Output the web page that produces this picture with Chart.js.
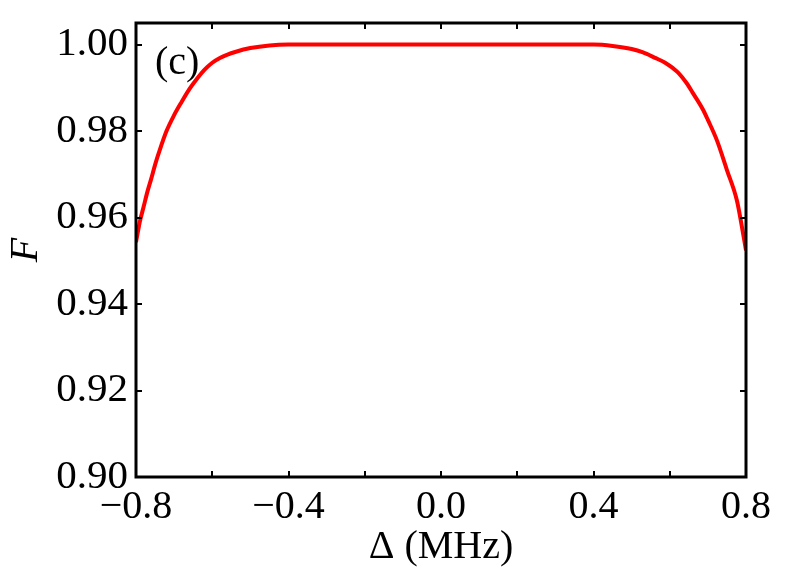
<!DOCTYPE html>
<html>
<head>
<meta charset="utf-8">
<script src="https://cdn.jsdelivr.net/npm/chart.js@4"></script>
<style>
  html, body { margin: 0; padding: 0; background: #fff; }
  canvas { display: block; }
</style>
</head>
<body>
<canvas id="fid" width="788" height="572"></canvas>
<script>
// detuning (MHz) and fidelity F
const detuning = [-0.80, -0.79, -0.78, -0.77, -0.76, -0.75, -0.74, -0.72, -0.70, -0.68,
  -0.66, -0.64, -0.62, -0.60, -0.58, -0.56, -0.54, -0.50, -0.45, -0.40,
  -0.30, -0.20, -0.10, 0.00, 0.10, 0.20, 0.30, 0.40, 0.45, 0.50,
  0.53, 0.56, 0.59, 0.62, 0.645, 0.66, 0.687, 0.70, 0.724, 0.75,
  0.776, 0.79, 0.80];
const fidelity = [0.9543, 0.9590, 0.9625, 0.9660, 0.9690, 0.9722, 0.9750, 0.9800, 0.9837, 0.9868,
  0.9897, 0.9921, 0.9942, 0.9958, 0.9969, 0.9977, 0.9983, 0.9992, 0.9998, 1.0000,
  1.0000, 1.0000, 1.0000, 1.0000, 1.0000, 1.0000, 1.0000, 1.0000, 0.9997, 0.9990,
  0.9982, 0.9970, 0.9957, 0.9937, 0.9910, 0.9889, 0.9850, 0.9826, 0.9778, 0.9710,
  0.9640, 0.9575, 0.9524];
const xTicks = [-0.8, -0.6, -0.4, -0.2, 0.0, 0.2, 0.4, 0.6, 0.8];
const xLabelTicks = [-0.8, -0.4, 0.0, 0.4, 0.8];
const yTicks = [0.90, 0.92, 0.94, 0.96, 0.98, 1.00];
const panelLabel = "(c)";

const SERIF = "'Liberation Serif', 'Times New Roman', serif";

const fmtX = v => {
  if (!xLabelTicks.some(t => Math.abs(t - v) < 1e-6)) return "";
  if (Math.abs(v) < 1e-9) return "0.0";
  return (v < 0 ? "\u2212" : "") + Math.abs(v).toFixed(1);
};

// box frame with inward ticks + panel label
const framePlugin = {
  id: "frame",
  afterDatasetsDraw(chart) {
    const { ctx, chartArea: { left, right, top, bottom } } = chart;
    const xs = chart.scales.x, ys = chart.scales.y;
    const tl = 6;
    ctx.save();
    ctx.strokeStyle = "#000";
    ctx.lineWidth = 2;
    xs.ticks.forEach(t => {
      const px = Math.round(xs.getPixelForValue(t.value));
      ctx.beginPath();
      ctx.moveTo(px, bottom); ctx.lineTo(px, bottom - tl);
      ctx.moveTo(px, top); ctx.lineTo(px, top + tl);
      ctx.stroke();
    });
    ys.ticks.forEach(t => {
      const py = Math.round(ys.getPixelForValue(t.value));
      ctx.beginPath();
      ctx.moveTo(left, py); ctx.lineTo(left + tl, py);
      ctx.moveTo(right, py); ctx.lineTo(right - tl, py);
      ctx.stroke();
    });
    ctx.lineWidth = 3;
    ctx.strokeRect(left, top, right - left, bottom - top);

    ctx.fillStyle = "#000";
    ctx.font = "40px " + SERIF;
    ctx.textAlign = "left";
    ctx.textBaseline = "middle";
    ctx.fillText(panelLabel, left + 19, top + 40);
    ctx.restore();
  }
};

new Chart(document.getElementById("fid"), {
  type: "line",
  data: {
    datasets: [{
      data: detuning.map((d, i) => ({ x: d, y: fidelity[i] })),
      borderColor: "#ff0000",
      borderWidth: 4,
      pointRadius: 0,
      fill: false,
      cubicInterpolationMode: "monotone"
    }]
  },
  options: {
    responsive: false,
    devicePixelRatio: 1,
    animation: false,
    layout: { padding: { top: 23, right: 42, left: 0, bottom: 0 } },
    plugins: { legend: { display: false }, tooltip: { enabled: false } },
    scales: {
      x: {
        type: "linear",
        min: -0.8, max: 0.8,
        grid: { display: false, drawTicks: false },
        border: { display: false },
        afterBuildTicks: s => { s.ticks = xTicks.map(v => ({ value: v })); },
        ticks: {
          autoSkip: false,
          maxRotation: 0,
          padding: 6,
          color: "#000",
          font: { family: SERIF, size: 40 },
          callback: v => fmtX(v)
        },
        title: {
          display: true,
          text: "\u0394 (MHz)",
          color: "#000",
          font: { family: SERIF, size: 40 },
          padding: { top: 0, bottom: 1 }
        },
        afterFit: s => {
          s.height = 95;
          s.paddingLeft = 0;
          s.paddingRight = 0;
        }
      },
      y: {
        min: 0.9, max: 1.005,
        grid: { display: false, drawTicks: false },
        border: { display: false },
        afterBuildTicks: s => { s.ticks = yTicks.map(v => ({ value: v })); },
        ticks: {
          autoSkip: false,
          padding: 8,
          color: "#000",
          font: { family: SERIF, size: 41 },
          callback: v => v.toFixed(2)
        },
        title: {
          display: true,
          text: "F",
          color: "#000",
          font: { family: SERIF, size: 40, style: "italic" },
          padding: { top: 2, bottom: 0 }
        },
        afterFit: s => {
          s.width = 136;
          s.paddingTop = 0;
          s.paddingBottom = 0;
        }
      }
    }
  },
  plugins: [framePlugin]
});
</script>
</body>
</html>
